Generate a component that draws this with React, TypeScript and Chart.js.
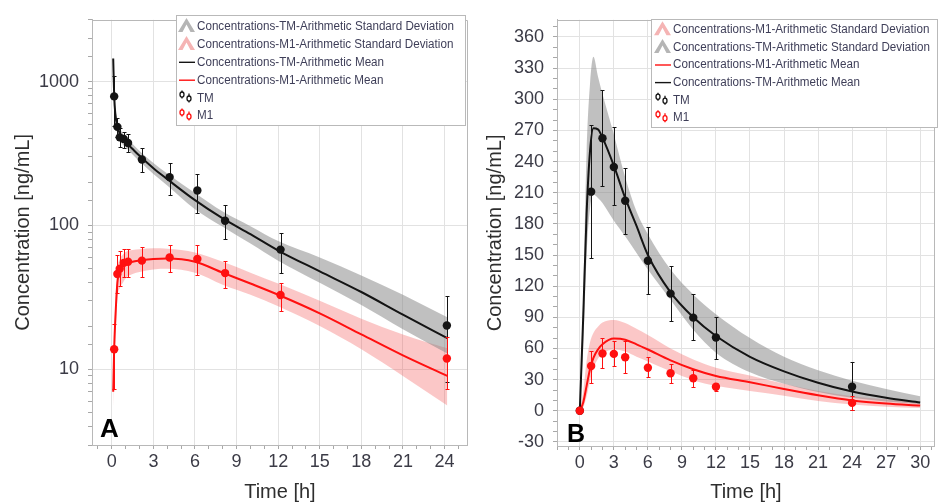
import React, { useEffect, useRef } from 'react';
import { Chart, registerables } from 'chart.js';

Chart.register(...registerables);

const FONT = '"Liberation Sans", Arial, Helvetica, sans-serif';
const TICK_COLOR = '#3b3b46';
const TITLE_COLOR = '#2e2e2e';
const GRID = '#e2e2e2';
const AXIS = '#b8b8b8';
const TM_COLOR = '#141414';
const M1_COLOR = '#ff1010';
const TM_BAND = 'rgba(135,135,135,0.52)';
const M1_BAND = 'rgba(242,70,70,0.30)';

// ---------------- Panel A (log scale) ----------------
const curveTimeA = [0.1, 0.17, 0.25, 0.4, 0.6, 0.8, 1, 1.5, 2, 3, 4, 6, 8, 10, 12, 15, 18, 21, 24.2];
const tmMeanA = [1450, 800, 600, 490, 430, 400, 380, 340, 305, 250, 210, 150, 112, 87, 67, 48, 34.5, 24, 16.5];
const tmUpperA = [1550, 1000, 700, 540, 470, 435, 410, 368, 330, 272, 230, 168, 125, 99, 78, 60, 45, 33, 23];
const tmLowerA = [1300, 620, 500, 440, 390, 365, 350, 312, 280, 228, 190, 130, 98, 75, 57, 40, 28, 19, 12.9];
const m1MeanA = [7, 14, 22, 40, 48, 52, 54, 56, 57, 58.5, 59, 56, 47, 39.5, 33, 24.5, 17.5, 12.5, 9];
const m1UpperA = [9, 18, 28, 50, 59, 63, 65.5, 67.5, 68.5, 69.5, 69, 65, 56, 47, 39.5, 30, 22.5, 17.5, 14];
const m1LowerA = [5.4, 10, 16, 31, 37, 40, 43, 46, 47.5, 49.5, 50, 47, 38.8, 33, 27.5, 20, 13.8, 9, 5.6];

const obsTimeA = [0.17, 0.4, 0.57, 0.86, 1.17, 2.17, 4.17, 6.17, 8.17, 12.17, 24.17];
const tmObsA = [790, 485, 410, 400, 375, 288, 217, 175, 108, 68, 20.2];
const tmLoA = [490, 410, 350, 345, 325, 237, 162, 123, 80, 47, 8.2];
const tmHiA = [1094, 560, 480, 444, 433, 345, 273, 228, 138, 89, 32.6];
const m1ObsA = [13.8, 46, 50, 55, 56, 57, 60, 58.5, 46.7, 32.9, 11.9];
const m1LoA = [7.3, 34, 38, 44, 44, 44, 47.2, 45.4, 36.9, 25.5, 7.3];
const m1HiA = [20.7, 62, 67, 68.4, 68.4, 71, 72.8, 72.8, 57, 40, 16.8];

// ---------------- Panel B (linear scale) ----------------
const curveTimeB = [0, 0.3, 0.6, 0.9, 1.2, 1.6, 2, 3, 4, 5, 6, 8, 10, 12, 15, 18, 21, 24, 27, 30];
const tmMeanB = [0, 90, 190, 250, 272, 271, 263, 236, 205, 178, 150, 114, 90, 72, 52, 38, 27, 18.5, 12.5, 8];
const tmUpperB = [0, 110, 250, 315, 341, 322, 305, 266, 225, 192, 170, 136, 112, 93, 70, 52, 39, 29, 21, 14];
const tmLowerB = [0, 60, 150, 195, 208, 205, 200, 183, 168, 152, 136, 107, 78, 56, 37, 26, 18, 12.5, 9, 6.5];
const m1MeanB = [0, 8, 24, 40, 51, 59, 64, 69.5, 68.5, 64, 59, 48.5, 40, 33.5, 27.5, 21, 15, 10, 7, 5];
const m1UpperB = [0, 18, 48, 66, 75, 81, 85, 87.4, 84.5, 79, 73, 60, 49.5, 41.5, 34, 26, 19, 14, 11, 8.2];
const m1LowerB = [0, 3, 14, 29, 41, 50, 55, 59, 57, 52, 47.5, 38, 29.5, 24, 19, 14.5, 9.5, 6, 4, 2.8];

const obsTimeB = [0, 1, 2, 3, 4, 6, 8, 10, 12, 24];
const tmObsB = [0, 211, 262.4, 234.8, 202.2, 144.5, 112.8, 89.7, 70.6, 23.1];
const tmLoB = [0, 147.6, 216.4, 197.8, 170.5, 112.8, 86.8, 67.8, 50, 0.3];
const tmHiB = [0, 275.4, 308.6, 273.5, 233.9, 176.8, 139.8, 112.2, 90.3, 46.9];
const m1ObsB = [0, 43.1, 55.1, 54.8, 51.6, 41.5, 36.1, 31.4, 23.1, 7.6];
const m1LoB = [0, 27.2, 40.9, 43.1, 36.7, 32.6, 26.6, 23.1, 19.3, 0.3];
const m1HiB = [0, 58, 70, 67.5, 67.5, 51.6, 44.7, 39.3, 27.2, 13.9];

// ---------------- Legend texts ----------------
const TXT_TM_SD = 'Concentrations-TM-Arithmetic Standard Deviation';
const TXT_M1_SD = 'Concentrations-M1-Arithmetic Standard Deviation';
const TXT_TM_MEAN = 'Concentrations-TM-Arithmetic Mean';
const TXT_M1_MEAN = 'Concentrations-M1-Arithmetic Mean';
const TXT_TM = 'TM';
const TXT_M1 = 'M1';

type LegendItem = { kind: 'band' | 'line' | 'err'; fill: string; text: string };

const legendItemsA: LegendItem[] = [
  { kind: 'band', fill: '#b5b5b5', text: TXT_TM_SD },
  { kind: 'band', fill: '#f5b4b4', text: TXT_M1_SD },
  { kind: 'line', fill: TM_COLOR, text: TXT_TM_MEAN },
  { kind: 'line', fill: M1_COLOR, text: TXT_M1_MEAN },
  { kind: 'err', fill: TM_COLOR, text: TXT_TM },
  { kind: 'err', fill: M1_COLOR, text: TXT_M1 },
];
const legendItemsB: LegendItem[] = [
  { kind: 'band', fill: '#f5b4b4', text: TXT_M1_SD },
  { kind: 'band', fill: '#b5b5b5', text: TXT_TM_SD },
  { kind: 'line', fill: M1_COLOR, text: TXT_M1_MEAN },
  { kind: 'line', fill: TM_COLOR, text: TXT_TM_MEAN },
  { kind: 'err', fill: TM_COLOR, text: TXT_TM },
  { kind: 'err', fill: M1_COLOR, text: TXT_M1 },
];

function xy(t: number[], v: number[]) {
  return t.map((x, i) => ({ x, y: v[i] }));
}

function drawLegend(ctx: CanvasRenderingContext2D, L: any) {
  ctx.save();
  ctx.fillStyle = '#ffffff';
  ctx.fillRect(L.x, L.y, L.w, L.h);
  ctx.strokeStyle = '#b9b9b9';
  ctx.lineWidth = 1;
  ctx.strokeRect(L.x + 0.5, L.y + 0.5, L.w - 1, L.h - 1);
  ctx.font = `12.5px ${FONT}`;
  ctx.textBaseline = 'middle';
  ctx.textAlign = 'left';
  const ref = ctx.measureText(TXT_TM_SD).width;
  const k = 257 / ref;
  (L.items as LegendItem[]).forEach((it, i) => {
    const cy = L.rowY0 + i * L.rowStep;
    const ix = L.iconX;
    if (it.kind === 'band') {
      ctx.fillStyle = it.fill;
      ctx.beginPath();
      ctx.moveTo(ix, cy + 6);
      ctx.lineTo(ix + 8.5, cy - 8);
      ctx.lineTo(ix + 17, cy + 6);
      ctx.lineTo(ix + 12.5, cy + 6);
      ctx.lineTo(ix + 8.5, cy - 1.5);
      ctx.lineTo(ix + 4.5, cy + 6);
      ctx.closePath();
      ctx.fill();
    } else if (it.kind === 'line') {
      ctx.strokeStyle = it.fill;
      ctx.lineWidth = 1.4;
      ctx.beginPath();
      ctx.moveTo(ix + 1, cy + 0.5);
      ctx.lineTo(ix + 17, cy + 0.5);
      ctx.stroke();
    } else {
      ctx.strokeStyle = it.fill;
      ctx.lineWidth = 1.3;
      const g = [
        { gx: ix + 4, top: cy - 7, bot: cy + 1, c: cy - 3 },
        { gx: ix + 11, top: cy - 4, bot: cy + 5, c: cy + 1 },
      ];
      g.forEach((q) => {
        ctx.beginPath();
        ctx.moveTo(q.gx, q.top);
        ctx.lineTo(q.gx, q.bot);
        ctx.stroke();
        ctx.beginPath();
        ctx.fillStyle = '#ffffff';
        ctx.ellipse(q.gx, q.c, 2, 2.6, 0, 0, Math.PI * 2);
        ctx.fill();
        ctx.stroke();
      });
    }
    ctx.fillStyle = '#3e3e58';
    const tw = ctx.measureText(it.text).width;
    ctx.fillText(it.text, L.textX, cy + 0.5, tw * k);
  });
  ctx.restore();
}

const errorBarPlugin = {
  id: 'errbars',
  beforeDatasetDraw(chart: any, args: any) {
    const ds: any = chart.data.datasets[args.index];
    if (!ds.errLo) return;
    const { ctx, chartArea } = chart;
    const xs = chart.scales.x;
    const ys = chart.scales.y;
    ctx.save();
    ctx.beginPath();
    ctx.rect(chartArea.left, chartArea.top, chartArea.right - chartArea.left, chartArea.bottom - chartArea.top);
    ctx.clip();
    ctx.strokeStyle = ds.errColor;
    ctx.lineWidth = 1;
    ds.data.forEach((p: any, i: number) => {
      const lo = ds.errLo[i];
      const hi = ds.errHi[i];
      if (hi - lo <= 0) return;
      const px = Math.round(xs.getPixelForValue(p.x)) + 0.5;
      const y1 = Math.round(ys.getPixelForValue(lo)) + 0.5;
      const y2 = Math.round(ys.getPixelForValue(hi)) + 0.5;
      ctx.beginPath();
      ctx.moveTo(px, y1);
      ctx.lineTo(px, y2);
      ctx.moveTo(px - 2, y1);
      ctx.lineTo(px + 2, y1);
      ctx.moveTo(px - 2, y2);
      ctx.lineTo(px + 2, y2);
      ctx.stroke();
    });
    ctx.restore();
  },
};

function framePlugin(legend: any, letter: any) {
  return {
    id: 'frame',
    beforeDatasetsDraw(chart: any) {
      const { ctx, chartArea } = chart;
      ctx.save();
      ctx.strokeStyle = AXIS;
      ctx.lineWidth = 1;
      ctx.beginPath();
      ctx.moveTo(Math.round(chartArea.left) + 0.5, Math.round(chartArea.top) + 0.5);
      ctx.lineTo(Math.round(chartArea.right) - 0.5, Math.round(chartArea.top) + 0.5);
      ctx.lineTo(Math.round(chartArea.right) - 0.5, Math.round(chartArea.bottom));
      ctx.stroke();
      ctx.restore();
    },
    afterDraw(chart: any) {
      const ctx = chart.ctx;
      drawLegend(ctx, legend);
      ctx.save();
      ctx.fillStyle = '#000';
      ctx.font = `bold ${letter.size}px ${FONT}`;
      ctx.textBaseline = 'alphabetic';
      ctx.textAlign = 'left';
      ctx.fillText(letter.text, letter.x, letter.y);
      ctx.restore();
    },
  };
}

function buildDatasets(d: any) {
  const band = (data: any, color: string, fill: any, order: number) => ({
    data,
    borderWidth: 0,
    borderColor: 'transparent',
    backgroundColor: color,
    pointRadius: 0,
    fill,
    cubicInterpolationMode: 'monotone',
    order,
  });
  const line = (data: any, color: string, order: number) => ({
    data,
    borderWidth: 2,
    borderColor: color,
    pointRadius: 0,
    fill: false,
    cubicInterpolationMode: 'monotone',
    order,
  });
  const pts = (data: any, color: string, lo: number[], hi: number[], order: number) => ({
    data,
    showLine: false,
    pointRadius: 4.2,
    pointHoverRadius: 4.2,
    pointBorderWidth: 0,
    pointBackgroundColor: color,
    borderColor: color,
    backgroundColor: color,
    errLo: lo,
    errHi: hi,
    errColor: color,
    order,
  });
  return [
    band(xy(d.t, d.m1Up), M1_BAND, '+1', 6),
    band(xy(d.t, d.m1Lo), M1_BAND, false, 6),
    band(xy(d.t, d.tmUp), TM_BAND, '+1', 5),
    band(xy(d.t, d.tmLo), TM_BAND, false, 5),
    line(xy(d.t, d.m1Mean), M1_COLOR, 4),
    line(xy(d.t, d.tmMean), TM_COLOR, 3),
    pts(xy(d.ot, d.tmObs), TM_COLOR, d.tmL, d.tmH, 1),
    pts(xy(d.ot, d.m1Obs), M1_COLOR, d.m1L, d.m1H, 0),
  ];
}

function xScale(min: number, max: number, lastLabel: number, height: number) {
  return {
    type: 'linear',
    min,
    max,
    afterFit: (s: any) => {
      s.height = height;
    },
    ticks: {
      stepSize: 1,
      includeBounds: false,
      autoSkip: false,
      maxRotation: 0,
      minRotation: 0,
      padding: 2,
      color: TICK_COLOR,
      font: { size: 18, family: FONT },
      callback: (v: any) => (v % 3 === 0 && v >= 0 && v <= lastLabel ? String(v) : ''),
    },
    grid: {
      color: (c: any) => (c.tick && c.tick.value % 3 === 0 && c.tick.value >= 0 ? GRID : 'rgba(0,0,0,0)'),
      tickColor: '#a8a8a8',
      tickLength: 4,
      lineWidth: 1,
    },
    border: { color: AXIS, width: 1 },
    title: {
      display: true,
      text: 'Time [h]',
      color: TITLE_COLOR,
      font: { size: 20, family: FONT, lineHeight: 1.2 },
      padding: { top: 0, bottom: 0 },
    },
  };
}

const isDecade = (v: number) => v > 0 && Math.abs(Math.log10(v) - Math.round(Math.log10(v))) < 1e-6;

function yTitle(pad: number) {
  return {
    display: true,
    text: 'Concentration [ng/mL]',
    color: TITLE_COLOR,
    font: { size: 20, family: FONT, lineHeight: 1.2 },
    padding: { top: pad, bottom: 0 },
  };
}

function configA(): any {
  const d = {
    t: curveTimeA, tmMean: tmMeanA, tmUp: tmUpperA, tmLo: tmLowerA,
    m1Mean: m1MeanA, m1Up: m1UpperA, m1Lo: m1LowerA,
    ot: obsTimeA, tmObs: tmObsA, tmL: tmLoA, tmH: tmHiA, m1Obs: m1ObsA, m1L: m1LoA, m1H: m1HiA,
  };
  const legend = { x: 176, y: 15, w: 290, h: 111, rowY0: 26, rowStep: 17.9, iconX: 178, textX: 197, items: legendItemsA };
  return {
    type: 'line',
    data: { datasets: buildDatasets(d) },
    options: {
      responsive: false,
      animation: false,
      devicePixelRatio: 1,
      events: [],
      layout: { padding: { left: 0, right: 2, top: 12, bottom: 0 } },
      plugins: { legend: { display: false }, tooltip: { enabled: false } },
      scales: {
        x: xScale(-1.43, 25.68, 24, 59),
        y: {
          type: 'logarithmic',
          min: 2.98,
          max: 2692,
          afterFit: (s: any) => {
            s.width = 92;
          },
          ticks: {
            autoSkip: false,
            padding: 9,
            color: TICK_COLOR,
            font: { size: 18, family: FONT },
            callback: (v: any) => (isDecade(v) ? String(Math.round(v)) : ''),
          },
          grid: {
            color: (c: any) => (c.tick && isDecade(c.tick.value) ? GRID : 'rgba(0,0,0,0)'),
            tickColor: '#a8a8a8',
            tickLength: 4,
          },
          border: { color: AXIS, width: 1 },
          title: yTitle(11),
        },
      },
    },
    plugins: [errorBarPlugin, framePlugin(legend, { text: 'A', x: 100, y: 437, size: 26 })],
  };
}

function configB(): any {
  const d = {
    t: curveTimeB, tmMean: tmMeanB, tmUp: tmUpperB, tmLo: tmLowerB,
    m1Mean: m1MeanB, m1Up: m1UpperB, m1Lo: m1LowerB,
    ot: obsTimeB, tmObs: tmObsB, tmL: tmLoB, tmH: tmHiB, m1Obs: m1ObsB, m1L: m1LoB, m1H: m1HiB,
  };
  const legend = { x: 181, y: 19, w: 287, h: 109, rowY0: 29.3, rowStep: 17.6, iconX: 184, textX: 203, items: legendItemsB };
  return {
    type: 'line',
    data: { datasets: buildDatasets(d) },
    options: {
      responsive: false,
      animation: false,
      devicePixelRatio: 1,
      events: [],
      layout: { padding: { left: 0, right: 1, top: 14, bottom: 0 } },
      plugins: { legend: { display: false }, tooltip: { enabled: false } },
      scales: {
        x: xScale(-2.01, 31.29, 30, 58),
        y: {
          type: 'linear',
          min: -33.9,
          max: 376.5,
          afterFit: (s: any) => {
            s.width = 87;
          },
          ticks: {
            stepSize: 10,
            includeBounds: false,
            autoSkip: false,
            padding: 9,
            color: TICK_COLOR,
            font: { size: 18, family: FONT },
            callback: (v: any) => (Math.round(v) % 30 === 0 ? String(Math.round(v)) : ''),
          },
          grid: {
            color: (c: any) => (c.tick && Math.round(c.tick.value) % 30 === 0 ? GRID : 'rgba(0,0,0,0)'),
            tickColor: '#a8a8a8',
            tickLength: 4,
          },
          border: { color: AXIS, width: 1 },
          title: yTitle(13),
        },
      },
    },
    plugins: [errorBarPlugin, framePlugin(legend, { text: 'B', x: 97, y: 442, size: 25 })],
  };
}

export default function App() {
  const refA = useRef<HTMLCanvasElement>(null);
  const refB = useRef<HTMLCanvasElement>(null);
  useEffect(() => {
    Chart.defaults.font.family = FONT;
    const a = new Chart(refA.current as HTMLCanvasElement, configA());
    const b = new Chart(refB.current as HTMLCanvasElement, configB());
    return () => {
      a.destroy();
      b.destroy();
    };
  }, []);
  return (
    <div style={{ position: 'fixed', left: 0, top: 0, width: 939, height: 504, background: '#ffffff', overflow: 'hidden' }}>
      <canvas ref={refA} width={472} height={504} style={{ position: 'absolute', left: 0, top: 0, width: 472, height: 504 }} />
      <canvas ref={refB} width={469} height={504} style={{ position: 'absolute', left: 470, top: 0, width: 469, height: 504 }} />
    </div>
  );
}
